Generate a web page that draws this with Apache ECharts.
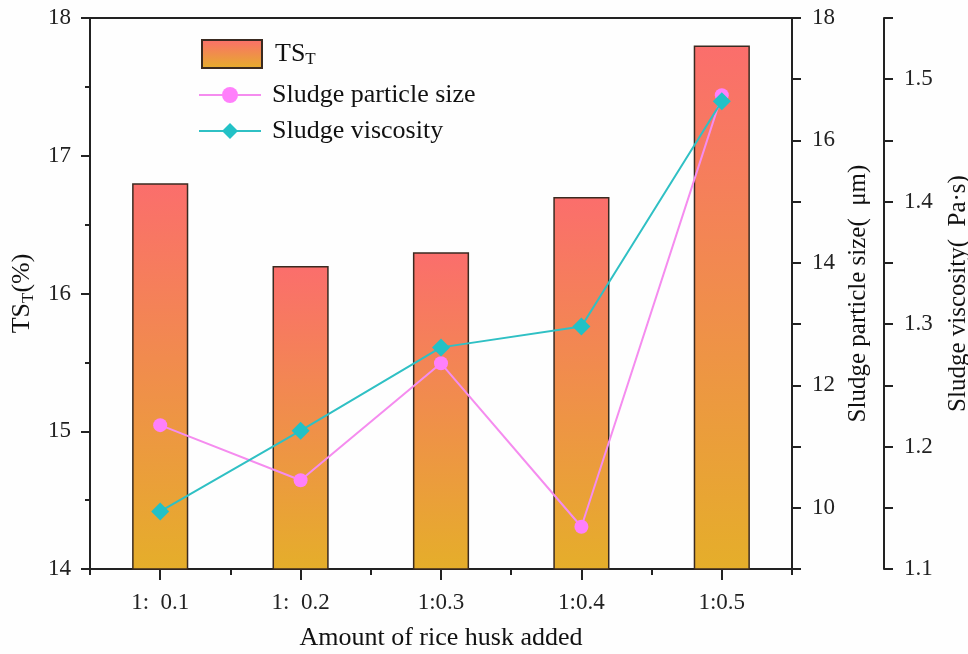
<!DOCTYPE html>
<html>
  <head>
    <meta charset="utf-8">
    <title>TS_T, particle size and viscosity</title>
  </head>
  <body style="margin:0;background:#fefefe;">
    <div id="main" style="width: 968px;height:654px;"></div>
  </body>
  <script type="text/javascript" src="https://cdn.jsdelivr.net/npm/echarts@6/dist/echarts.min.js"></script>
  <script type="text/javascript">
      // data
      var categories = ['1:  0.1', '1:  0.2', '1:0.3', '1:0.4', '1:0.5'];
      var tsT = [16.8, 16.2, 16.3, 16.7, 17.8];
      var particleSize = [11.35, 10.45, 12.36, 9.69, 16.74];
      var viscosity = [1.147, 1.213, 1.281, 1.298, 1.482];

      var serif = "'Liberation Serif', 'Times New Roman', serif";
      var ink = '#222';

      var myChart = echarts.init(document.getElementById('main'));

      function yAxisBase(extra) {
          var a = {
              type: 'value',
              splitLine: { show: false },
              axisLine: { show: true, lineStyle: { color: ink, width: 2 } },
              axisTick: { show: true, inside: false, length: 9, lineStyle: { color: ink, width: 2 } },
              axisLabel: { color: '#222', fontFamily: serif, fontSize: 23, margin: 18 },
              nameLocation: 'middle',
              nameRotate: 90,
              nameTextStyle: { color: '#111', fontFamily: serif, fontSize: 25 }
          };
          for (var k in extra) a[k] = extra[k];
          return a;
      }

      var option = {
          backgroundColor: '#fefefe',
          animation: false,
          grid: {
              left: 90, right: 176, top: 18, bottom: 85,
              outerBoundsMode: 'none',
              show: true, borderColor: ink, borderWidth: 2
          },
          legend: [{
              data: ['TS_T'],
              left: 196, top: 34,
              icon: 'rect',
              itemWidth: 60, itemHeight: 28,
              formatter: function () { return '{a|TS}{b|T}'; },
              textStyle: {
                  padding: [0, 0, 0, 8],
                  rich: {
                      a: { fontFamily: serif, fontSize: 26, color: '#111' },
                      b: { fontFamily: serif, fontSize: 17, color: '#111', verticalAlign: 'bottom', padding: [12, 0, 0, 0] }
                  }
              }
          }, {
              data: ['Sludge particle size', 'Sludge viscosity'],
              orient: 'vertical',
              left: 193, top: 77,
              itemGap: 10,
              itemWidth: 62, itemHeight: 20,
              textStyle: { fontFamily: serif, fontSize: 26, color: '#111', padding: [0, 0, 0, 6] }
          }],
          xAxis: [{
              type: 'category',
              data: categories,
              position: 'bottom',
              axisLine: { show: true, lineStyle: { color: ink, width: 2 } },
              axisTick: { show: true, alignWithLabel: true, length: 11, lineStyle: { color: ink, width: 2 } },
              axisLabel: { color: '#222', fontFamily: serif, fontSize: 23, margin: 22 },
              name: 'Amount of rice husk added',
              nameLocation: 'middle',
              nameGap: 56,
              nameTextStyle: { color: '#111', fontFamily: serif, fontSize: 26 }
          }, {
              // boundary ticks between categories
              type: 'category',
              data: categories,
              position: 'bottom',
              axisLine: { show: false },
              axisTick: { show: true, length: 6, lineStyle: { color: ink, width: 2 } },
              axisLabel: { show: false }
          }],
          yAxis: [
              yAxisBase({
                  position: 'left',
                  min: 14, max: 18, interval: 1,
                  axisLabel: { color: '#222', fontFamily: serif, fontSize: 23, margin: 19 },
                  minorTick: { show: true, splitNumber: 2, length: 5, lineStyle: { color: ink, width: 2 } },
                  name: '{a|TS}{b|T}{a|(%)}',
                  nameGap: 46,
                  nameTextStyle: {
                      rich: {
                          a: { fontFamily: serif, fontSize: 26, color: '#111' },
                          b: { fontFamily: serif, fontSize: 17, color: '#111', verticalAlign: 'bottom', padding: [12, 0, 0, 0] }
                      }
                  }
              }),
              yAxisBase({
                  position: 'right',
                  min: 9, max: 18, interval: 1,
                  axisLabel: {
                      color: '#222', fontFamily: serif, fontSize: 23, margin: 20,
                      formatter: function (v) { return v % 2 === 0 ? String(v) : ''; }
                  },
                  name: 'Sludge particle size(  μm)',
                  nameGap: 53
              }),
              yAxisBase({
                  position: 'right',
                  offset: 92,
                  min: 1.1, max: 1.55, interval: 0.05,
                  axisLabel: {
                      color: '#222', fontFamily: serif, fontSize: 23, margin: 20,
                      formatter: function (v) {
                          return Math.round(v * 100) % 10 === 0 ? v.toFixed(1) : '';
                      }
                  },
                  name: 'Sludge viscosity(  Pa·s)',
                  nameGap: 62
              })
          ],
          series: [{
              name: 'TS_T',
              type: 'bar',
              yAxisIndex: 0,
              barWidth: '40%',
              data: tsT,
              itemStyle: {
                  color: new echarts.graphic.LinearGradient(0, 0, 0, 1, [
                      { offset: 0, color: '#fb6e6c' },
                      { offset: 1, color: '#e5ae2a' }
                  ]),
                  borderColor: '#3a2a20',
                  borderWidth: 1.5
              }
          }, {
              name: 'Sludge particle size',
              type: 'line',
              yAxisIndex: 1,
              data: particleSize,
              symbol: 'circle',
              symbolSize: 14,
              lineStyle: { color: '#f58cef', width: 2 },
              itemStyle: { color: '#ff80fb' }
          }, {
              name: 'Sludge viscosity',
              type: 'line',
              yAxisIndex: 2,
              data: viscosity,
              symbol: 'diamond',
              symbolSize: 18,
              lineStyle: { color: '#2fc0c4', width: 2 },
              itemStyle: { color: '#22c1c6' }
          }]
      };

      myChart.setOption(option);
  </script>
</html>
